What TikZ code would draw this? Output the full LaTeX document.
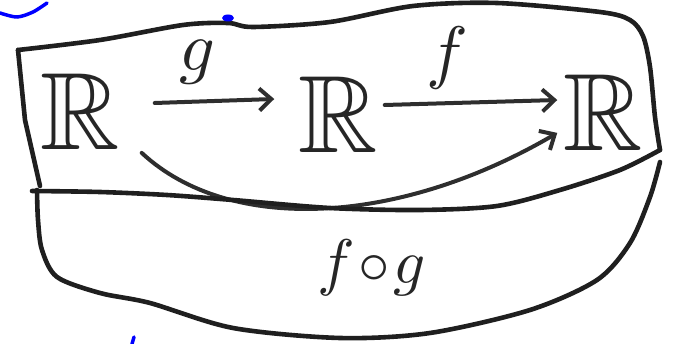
\documentclass[tikz,border=0pt]{standalone}
\usepackage{amssymb}
\usetikzlibrary{arrows.meta}

\begin{document}
\begin{tikzpicture}[x=1pt,y=-1pt,>={Straight Barb[length=12pt,width=22pt]},
    hand/.style={black!88,line width=4.6pt,line cap=round,line join=round},
    conn/.style={->,black!82,line width=4pt,line cap=round},
    ink/.style={blue,line width=3.5pt,line cap=round},
    setnode/.style={scale=11,inner sep=0pt,outer sep=0pt,black!85},
    maplabel/.style={scale=7,inner sep=0pt,black!85}]
  \useasboundingbox (0,0) rectangle (675,344);
  \node[setnode] (r1) at (80,112) {$\mathbb{R}$};
  \node[setnode] (r2) at (338,115) {$\mathbb{R}$};
  \node[setnode] (r3) at (603,113) {$\mathbb{R}$};
  \node[maplabel] (g) at (197,62) {$g$};
  \node[maplabel] (f) at (447,58) {$f$};
  \node[maplabel,scale=0.9] (fg) at (372,268) {$f\!\circ\! g$};
  \draw[conn] ([shift={(35,-9)}]r1.east) -- ([shift={(-24,-16)}]r2.west);
  \draw[conn] ([shift={(7,-10)}]r2.east) -- ([shift={(-6,-13)}]r3.west);
  \draw[conn] ([shift={(22,3)}]r1.south east)
    .. controls (230,235) and (400,225) .. ([shift={(-6,-18)}]r3.south west);
  \draw[hand] plot[smooth] coordinates {(18,50) (100,40) (183,25) (228,23)
    (253,27) (330,22) (413,6) (497,3) (600,12) (630,20) (643,36) (650,67)
    (655,117) (660,150)};
  \draw[hand] plot[smooth] coordinates {(660,150) (620,170) (560,190)
    (497,206) (420,210) (330,208) (233,200) (167,195) (100,192) (32,191)};
  \draw[hand] (18,50) -- (25,120) -- (40,186);
  \draw[hand] plot[smooth] coordinates {(37,190) (38,220) (42,250) (57,277)
    (100,293) (150,303) (233,328) (340,338) (430,333) (530,310) (597,280)
    (630,243) (650,197) (660,162)};
  \draw[ink] plot[smooth] coordinates {(0,13) (17,17) (33,12) (47,3)};
  \fill[blue] (228,18) ellipse (6 and 3.5);
  \draw[ink] (134,337) -- (132,344);
\end{tikzpicture}
\end{document}
